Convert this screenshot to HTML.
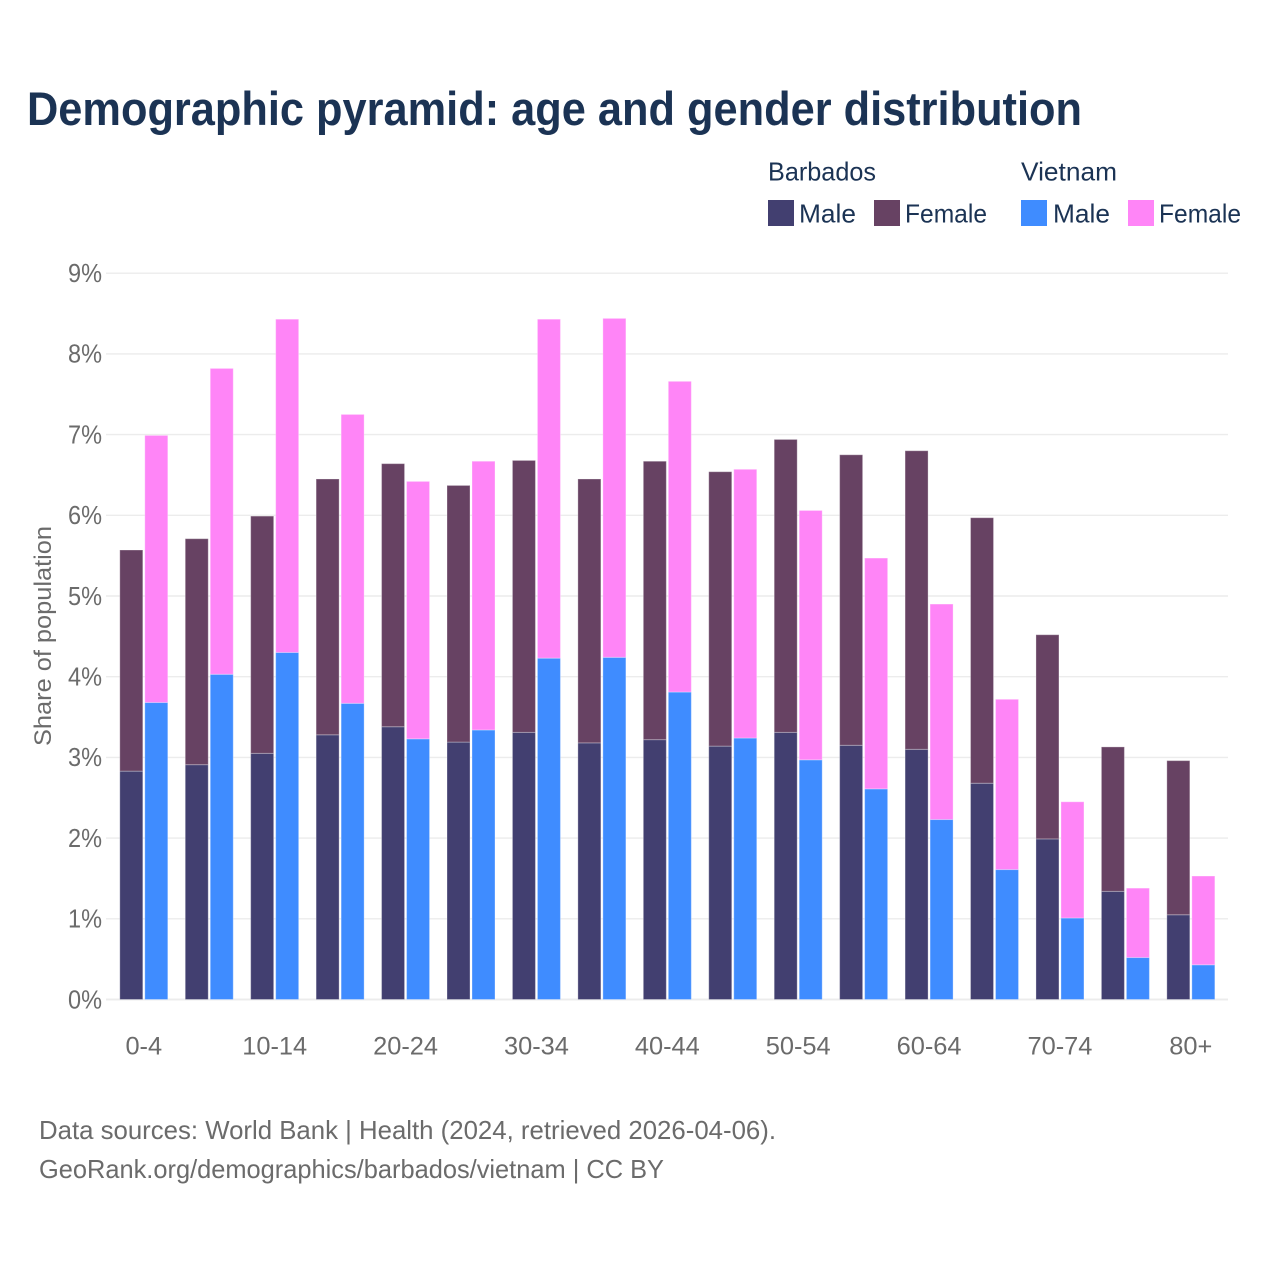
<!DOCTYPE html>
<html lang="en">
<head>
<meta charset="utf-8">
<title>Demographic pyramid</title>
<style>
html,body{margin:0;padding:0;background:#fff;width:1280px;height:1280px;overflow:hidden}
svg{display:block}
text{font-family:"Liberation Sans",sans-serif}
</style>
</head>
<body>
<svg id="chart" xmlns="http://www.w3.org/2000/svg" width="1280" height="1280" viewBox="0 0 1280 1280">
  <rect width="1280" height="1280" fill="#fff"/>
  <text x="27" y="125" font-size="47" font-weight="700" fill="#1b3354" textLength="1055" lengthAdjust="spacingAndGlyphs">Demographic pyramid: age and gender distribution</text>

  <g font-size="26" fill="#1b3354">
    <text x="768" y="180.5" textLength="108" lengthAdjust="spacingAndGlyphs">Barbados</text>
    <text x="1021" y="180.5" textLength="96" lengthAdjust="spacingAndGlyphs">Vietnam</text>
    <rect x="768" y="200" width="26" height="26" fill="#423f70"/>
    <text x="799" y="222.5" textLength="57" lengthAdjust="spacingAndGlyphs">Male</text>
    <rect x="874" y="200" width="26" height="26" fill="#674263"/>
    <text x="905" y="222.5" textLength="82" lengthAdjust="spacingAndGlyphs">Female</text>
    <rect x="1021" y="200" width="26" height="26" fill="#3f8cff"/>
    <text x="1053" y="222.5" textLength="57" lengthAdjust="spacingAndGlyphs">Male</text>
    <rect x="1128" y="200" width="26" height="26" fill="#ff85f7"/>
    <text x="1159" y="222.5" textLength="82" lengthAdjust="spacingAndGlyphs">Female</text>
  </g>

  <g id="grid"></g>
  <g id="bars"></g>
  <g id="yticks"></g>
  <g id="xticks"></g>

  <text transform="translate(51,746) rotate(-90)" font-size="24" fill="#6b6b6b" textLength="220" lengthAdjust="spacingAndGlyphs">Share of population</text>

  <text x="39" y="1139" font-size="26" fill="#6b6b6b" textLength="737" lengthAdjust="spacingAndGlyphs">Data sources: World Bank | Health (2024, retrieved 2026-04-06).</text>
  <text x="39" y="1178" font-size="26" fill="#6b6b6b" textLength="625" lengthAdjust="spacingAndGlyphs">GeoRank.org/demographics/barbados/vietnam | CC BY</text>
</svg>
<script>
const categories = ["0-4","5-9","10-14","15-19","20-24","25-29","30-34","35-39","40-44","45-49","50-54","55-59","60-64","65-69","70-74","75-79","80+"];
const xTickLabels = ["0-4","","10-14","","20-24","","30-34","","40-44","","50-54","","60-64","","70-74","","80+"];
const yTickValues = [0,1,2,3,4,5,6,7,8,9];
const barbadosMale = [2.83,2.91,3.05,3.28,3.38,3.19,3.31,3.18,3.22,3.14,3.31,3.15,3.10,2.68,1.99,1.34,1.05];
const barbadosFemale = [2.74,2.80,2.94,3.17,3.26,3.18,3.37,3.27,3.45,3.40,3.63,3.60,3.70,3.29,2.53,1.79,1.91];
const vietnamMale = [3.68,4.03,4.30,3.67,3.23,3.34,4.23,4.24,3.81,3.24,2.97,2.61,2.23,1.61,1.01,0.52,0.43];
const vietnamFemale = [3.31,3.79,4.13,3.58,3.19,3.33,4.20,4.20,3.85,3.33,3.09,2.86,2.67,2.11,1.44,0.86,1.10];

const NS = "http://www.w3.org/2000/svg";
const Y0 = 999.5, PX_PER_PCT = 80.7;
const X0 = 119.8, STEP = 65.44, BAR_W = 23, V_OFFSET = 25;
function yScale(v){ return Y0 - v * PX_PER_PCT; }
function xScale(i){ return X0 + i * STEP; }

const gridG = document.getElementById("grid");
const yG = document.getElementById("yticks");
const xG = document.getElementById("xticks");
const barG = document.getElementById("bars");

yTickValues.forEach(function(v){
  const line = document.createElementNS(NS, "line");
  
  
  line.setAttribute("x1", 106);
  line.setAttribute("x2", 1228);
  line.setAttribute("y1", yScale(v));
  line.setAttribute("y2", yScale(v));
  line.setAttribute("stroke", "#ececec");
  line.setAttribute("stroke-width", v === 0 ? 2 : 1.4);
  gridG.appendChild(line);

  const t = document.createElementNS(NS, "text");
  
  
  t.setAttribute("x", 102);
  t.setAttribute("y", yScale(v) + 8.8);
  t.setAttribute("text-anchor", "end");
  t.setAttribute("font-size", 26);
  t.setAttribute("fill", "#6b6b6b");
  t.setAttribute("textLength", 34);
  t.setAttribute("lengthAdjust", "spacingAndGlyphs");
  t.textContent = v + "%";
  yG.appendChild(t);
});

function addBar(x, bottom, top, fill, name){
  const r = document.createElementNS(NS, "rect");
  
  
  r.setAttribute("x", x);
  r.setAttribute("y", yScale(top));
  r.setAttribute("width", BAR_W);
  r.setAttribute("height", yScale(bottom) - yScale(top));
  r.setAttribute("fill", fill);
  r.setAttribute("stroke", "rgba(255,255,255,0.3)");
  r.setAttribute("stroke-width", 1);
  barG.appendChild(r);
}

categories.forEach(function(c, i){
  const x = xScale(i);
  addBar(x, 0, barbadosMale[i], "#423f70", "bar-barbados-male");
  addBar(x, barbadosMale[i], barbadosMale[i] + barbadosFemale[i], "#674263", "bar-barbados-female");
  addBar(x + V_OFFSET, 0, vietnamMale[i], "#3f8cff", "bar-vietnam-male");
  addBar(x + V_OFFSET, vietnamMale[i], vietnamMale[i] + vietnamFemale[i], "#ff85f7", "bar-vietnam-female");
  if (xTickLabels[i]) {
    const t = document.createElementNS(NS, "text");
    
    
    t.setAttribute("x", x + 24);
    t.setAttribute("y", 1054.5);
    t.setAttribute("text-anchor", "middle");
    t.setAttribute("font-size", 25.4);
    t.setAttribute("fill", "#6b6b6b");
    t.textContent = xTickLabels[i];
    xG.appendChild(t);
  }
});
</script>
</body>
</html>
